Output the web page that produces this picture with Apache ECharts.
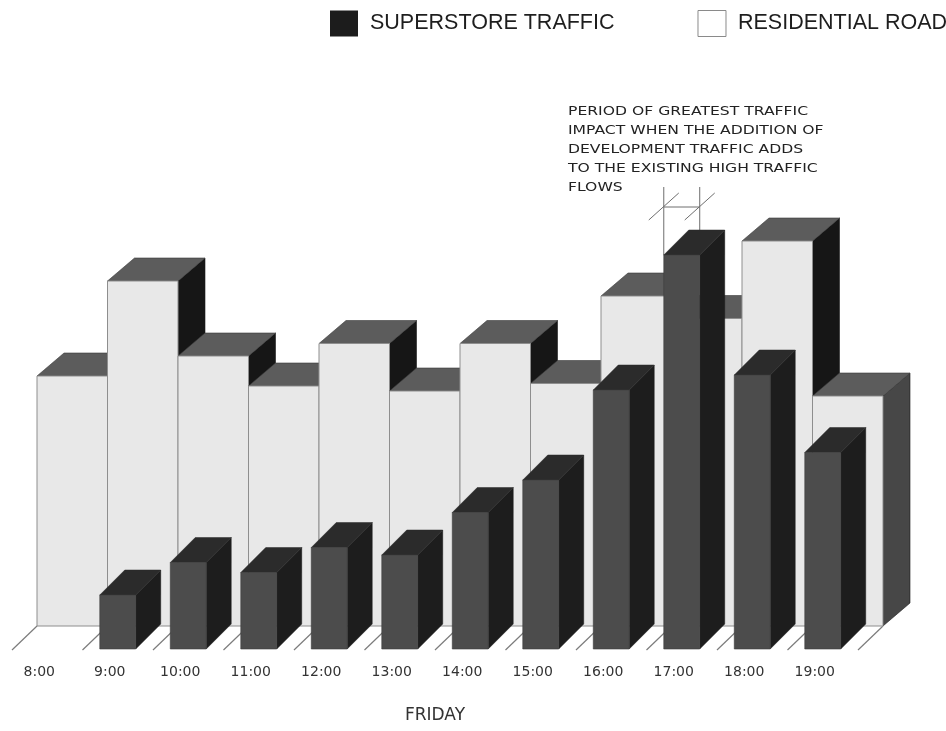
<!DOCTYPE html>
<html>
<head>
<meta charset="utf-8">
<title>Friday traffic flows</title>
<style>
  html, body { margin: 0; padding: 0; background: #ffffff; }
  #chart { width: 946px; height: 731px; }
</style>
<script src="https://cdn.jsdelivr.net/npm/echarts@6/dist/echarts.min.js"></script>
</head>
<body>
<div id="chart"></div>
<script>
// Hourly flows on Friday (vehicles per hour)
const hours = ['8:00', '9:00', '10:00', '11:00', '12:00', '13:00', '14:00', '15:00', '16:00', '17:00', '18:00', '19:00'];
const residentialRoad = [500, 690, 540, 480, 565, 470, 565, 485, 660, 615, 770, 460];
const superstoreTraffic = [null, 110, 175, 155, 205, 190, 275, 340, 520, 790, 550, 395];
const peakHour = '17:00';
const noteLines = [
  'PERIOD OF GREATEST TRAFFIC',
  'IMPACT WHEN THE ADDITION OF',
  'DEVELOPMENT TRAFFIC ADDS',
  'TO THE EXISTING HIGH TRAFFIC',
  'FLOWS'
];
const seriesNames = { store: 'SUPERSTORE TRAFFIC', road: 'RESIDENTIAL ROAD' };

// Oblique projection used for the pseudo-3D blocks
const ROW_SHIFT = [25, -24];     // front row -> back row on the floor
const BACK_DEPTH = [27, -23];    // depth of the residential blocks
const FRONT_DEPTH = [25, -25];   // depth of the superstore blocks
const FRONT_WIDTH = 0.51;        // superstore block width as share of a category

const roadData = residentialRoad.map((v, i) => [i, v]);
const storeData = superstoreTraffic
  .map((v, i) => (v == null ? null : [i, v]))
  .filter(d => d !== null);

function seg(x1, y1, x2, y2, stroke, width) {
  return {
    type: 'line',
    shape: { x1: x1, y1: y1, x2: x2, y2: y2 },
    style: { stroke: stroke, lineWidth: width }
  };
}

function renderRoad(params, api) {
  const i = api.value(0);
  const band = api.size([1, 0])[0];
  const b = api.coord([i, 0]);
  const t = api.coord([i, api.value(1)]);
  const last = i === hours.length - 1;
  const fl = b[0] - band / 2;
  const x0 = fl + ROW_SHIFT[0];
  const x1 = x0 + band;
  const yb = b[1] + ROW_SHIFT[1];
  const yt = t[1] + ROW_SHIFT[1];
  const dx = BACK_DEPTH[0], dy = BACK_DEPTH[1];
  const children = [];
  // floor dividers between the hours
  children.push(seg(fl, b[1], fl + ROW_SHIFT[0], yb, '#7c7c7c', 1.2));
  if (last) {
    children.push(seg(fl + band, b[1], fl + band + ROW_SHIFT[0], yb, '#7c7c7c', 1.2));
  }
  // right side
  children.push({
    type: 'polygon',
    shape: { points: [[x1, yt], [x1 + dx, yt + dy], [x1 + dx, yb + dy], [x1, yb]] },
    style: { fill: last ? '#474747' : '#161616', stroke: '#1a1a1a', lineWidth: 0.6 }
  });
  // top
  children.push({
    type: 'polygon',
    shape: { points: [[x0, yt], [x0 + dx, yt + dy], [x1 + dx, yt + dy], [x1, yt]] },
    style: { fill: '#5c5c5c', stroke: '#3a3a3a', lineWidth: 0.6 }
  });
  // front
  children.push({
    type: 'rect',
    shape: { x: x0, y: yt, width: band, height: yb - yt },
    style: { fill: '#e8e8e8', stroke: '#8e8e8e', lineWidth: 1 }
  });
  return { type: 'group', children: children };
}

function renderStore(params, api) {
  const i = api.value(0);
  const band = api.size([1, 0])[0];
  const w = band * FRONT_WIDTH;
  const b = api.coord([i, 0]);
  const t = api.coord([i, api.value(1)]);
  const x0 = b[0] - w / 2;
  const x1 = x0 + w;
  const yb = b[1] - 1;
  const yt = t[1];
  const dx = FRONT_DEPTH[0], dy = FRONT_DEPTH[1];
  const children = [];
  if (hours[i] === peakHour) {
    // dimension marker over the peak hour
    const yTop = yt - 68, yBar = yt - 48;
    children.push(seg(x0, yTop, x0, yt, '#6e6e6e', 1));
    children.push(seg(x1, yTop, x1, yt, '#6e6e6e', 1));
    children.push(seg(x0, yBar, x1, yBar, '#6e6e6e', 1));
    children.push(seg(x0 - 15, yBar + 13, x0 + 15, yBar - 14, '#6e6e6e', 1));
    children.push(seg(x1 - 15, yBar + 13, x1 + 15, yBar - 14, '#6e6e6e', 1));
  }
  children.push({
    type: 'polygon',
    shape: { points: [[x1, yt], [x1 + dx, yt + dy], [x1 + dx, yb + dy], [x1, yb]] },
    style: { fill: '#1d1d1d', stroke: '#1d1d1d', lineWidth: 0.5 }
  });
  children.push({
    type: 'polygon',
    shape: { points: [[x0, yt], [x0 + dx, yt + dy], [x1 + dx, yt + dy], [x1, yt]] },
    style: { fill: '#2b2b2b', stroke: '#2b2b2b', lineWidth: 0.5 }
  });
  children.push({
    type: 'rect',
    shape: { x: x0, y: yt, width: w, height: yb - yt },
    style: { fill: '#4c4c4c', stroke: '#3c3c3c', lineWidth: 0.6 }
  });
  return { type: 'group', children: children };
}

const chart = echarts.init(document.getElementById('chart'), null, { renderer: 'canvas' });

chart.setOption({
  animation: false,
  backgroundColor: '#ffffff',
  legend: {
    left: 330,
    top: 10,
    width: 700,
    padding: 0,
    itemWidth: 28,
    itemHeight: 26,
    itemGap: 83,
    selectedMode: false,
    textStyle: { fontFamily: 'Liberation Sans', fontSize: 21.5, color: '#1e1e1e', padding: [0, 0, 0, 7] },
    data: [
      { name: seriesNames.store, icon: 'rect', itemStyle: { color: '#1c1c1c', borderWidth: 0 } },
      { name: seriesNames.road, icon: 'rect', itemStyle: { color: '#ffffff', borderColor: '#8a8a8a', borderWidth: 1 } }
    ]
  },
  grid: { left: 12, right: 88, top: 150, bottom: 81 },
  xAxis: {
    type: 'category',
    data: hours,
    boundaryGap: true,
    axisLine: { show: false },
    axisTick: { show: false },
    splitLine: { show: false },
    axisLabel: {
      interval: 0,
      margin: 15,
      padding: [0, 16, 0, 0],
      fontFamily: 'DejaVu Sans',
      fontSize: 14,
      color: '#333333'
    },
    name: 'FRIDAY',
    nameLocation: 'middle',
    nameGap: 57,
    nameTextStyle: { fontFamily: 'DejaVu Sans', fontSize: 17, color: '#333333' }
  },
  yAxis: { type: 'value', min: 0, max: 1000, show: false },
  graphic: [{
    type: 'text',
    x: 568,
    y: 102,
    scaleX: 1.2,
    style: {
      text: noteLines.join('\n'),
      font: '13px "DejaVu Sans"',
      fill: '#222222',
      lineHeight: 19
    }
  }],
  series: [
    {
      name: seriesNames.road,
      type: 'custom',
      renderItem: renderRoad,
      encode: { x: 0, y: 1 },
      data: roadData,
      itemStyle: { color: '#ffffff' },
      z: 2
    },
    {
      name: seriesNames.store,
      type: 'custom',
      renderItem: renderStore,
      encode: { x: 0, y: 1 },
      data: storeData,
      itemStyle: { color: '#1c1c1c' },
      z: 3
    }
  ]
});
</script>
</body>
</html>
